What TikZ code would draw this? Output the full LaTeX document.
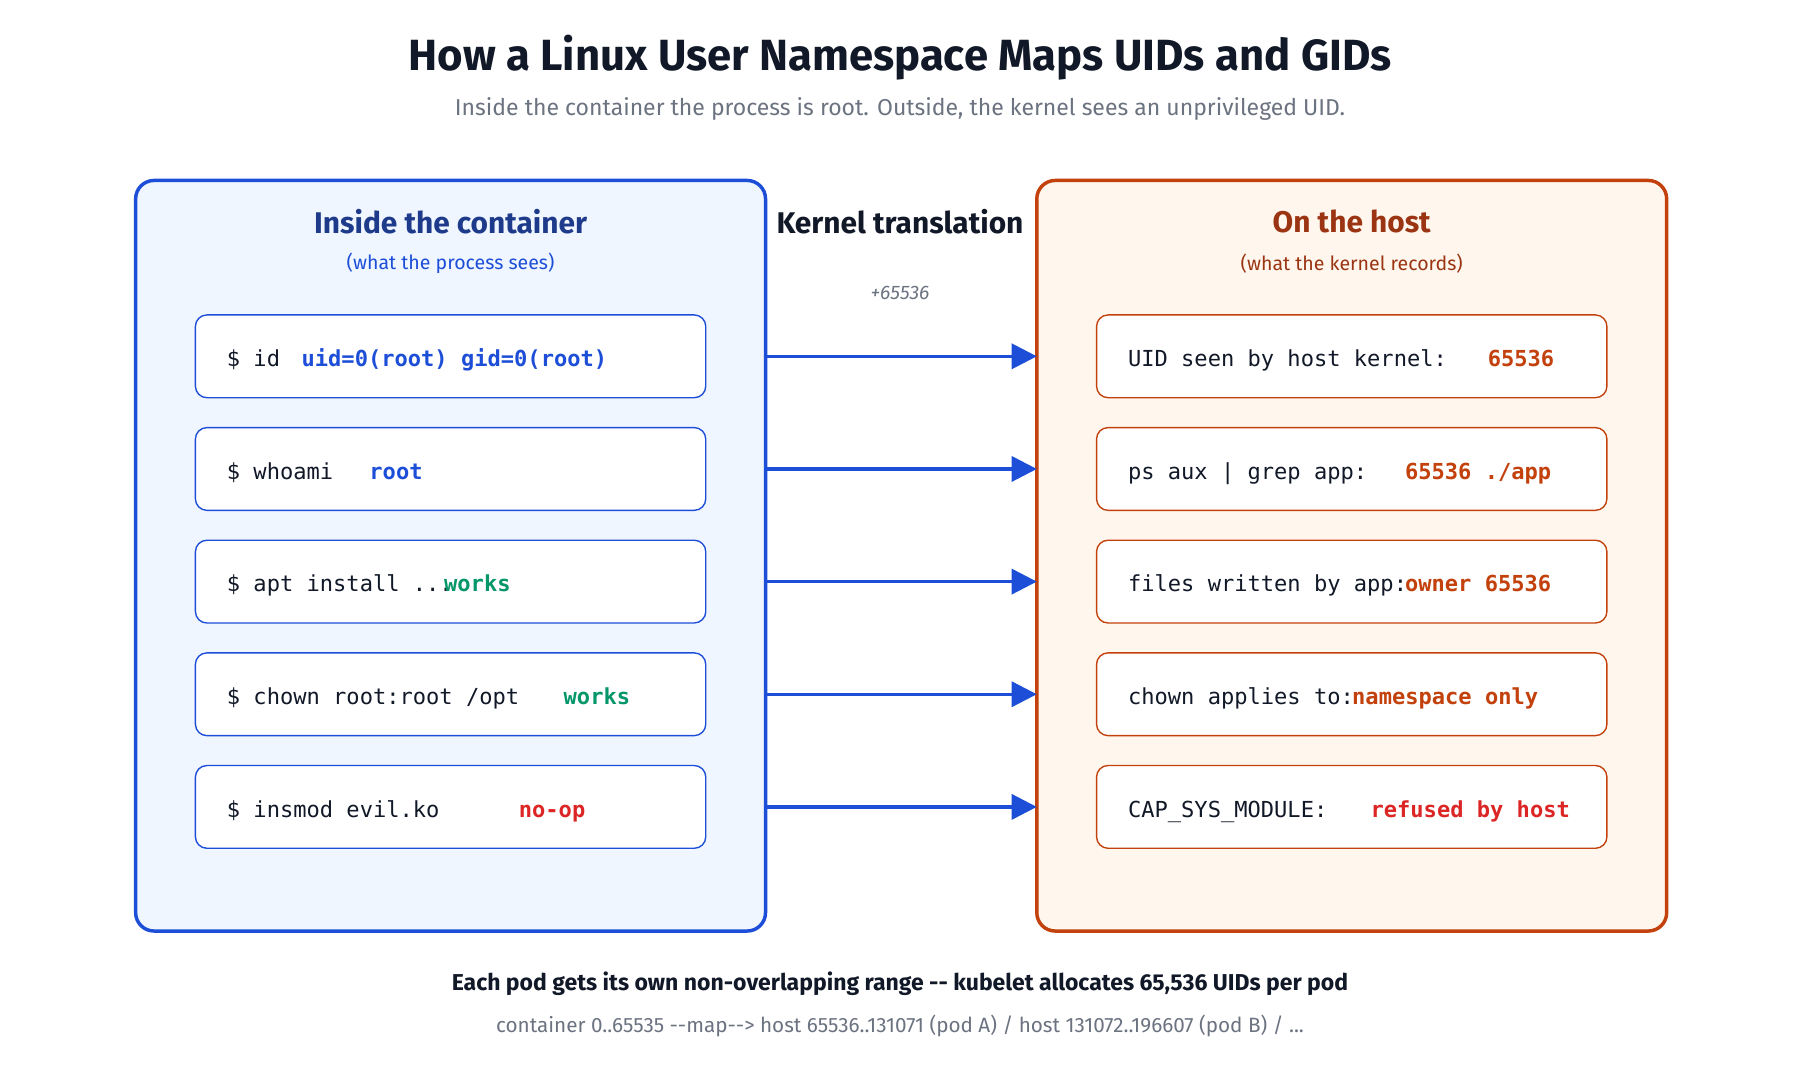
\documentclass[tikz,border=0pt]{standalone}
\usepackage{fontspec}
\setmainfont{Fira Sans}
\newfontfamily\monof{DejaVu Sans Mono}
\usetikzlibrary{arrows.meta}
\definecolor{ink}{HTML}{111827}
\definecolor{gry}{HTML}{6B7280}
\definecolor{blu}{HTML}{1D4ED8}
\definecolor{bluD}{HTML}{1E3A8A}
\definecolor{bluF}{HTML}{EFF6FF}
\definecolor{org}{HTML}{C2410C}
\definecolor{orgD}{HTML}{9A3412}
\definecolor{orgF}{HTML}{FFF7ED}
\definecolor{grn}{HTML}{059669}
\definecolor{red}{HTML}{DC2626}
\tikzset{
  panel/.style={rounded corners=8pt, line width=1.5pt},
  rowbox/.style={rounded corners=5pt, line width=0.6pt, fill=white},
  mono/.style={font=\monof\fontsize{9.6}{11}\selectfont, anchor=base west, inner sep=0},
  monob/.style={mono, font=\monof\bfseries\fontsize{9.6}{11}\selectfont},
  xarrow/.style={-{Triangle[length=11pt,width=11pt]}, line width=1.4pt, draw=blu},
}
\begin{document}
\begin{tikzpicture}[x=0.5pt,y=-0.5pt]
\useasboundingbox (0,0) rectangle (1566,940);
\node (title) at (783,50) {\bfseries\fontsize{19}{22}\selectfont\color{ink}How a Linux User Namespace Maps UIDs and GIDs};
\node (sub) at (783,95) {\fontsize{10}{12}\selectfont\color{gry}Inside the container the process is root. Outside, the kernel sees an unprivileged UID.};
\draw[panel, draw=blu, fill=bluF] (118,157) rectangle (666,810);
\draw[panel, draw=org, fill=orgF] (902,157) rectangle (1450,810);
\node (lh) at (392,193) {\bfseries\fontsize{13}{15}\selectfont\color{bluD}Inside the container};
\node (ls) at (392,229) {\fontsize{8.5}{10}\selectfont\color{blu}(what the process sees)};
\node (rh) at (1176,193) {\bfseries\fontsize{13}{15}\selectfont\color{orgD}On the host};
\node (rs) at (1176,229) {\fontsize{8.5}{10}\selectfont\color{orgD}(what the kernel records)};
\node (kt) at (783,193) {\bfseries\fontsize{13}{15}\selectfont\color{ink}Kernel translation};
\node (off) at (783,255) {\itshape\fontsize{8.5}{10}\selectfont\color{gry}+65536};
\foreach \i/\y in {1/310,2/408,3/506,4/604,5/702}{
  \draw[rowbox, draw=blu] (170,\y-36) rectangle (614,\y+36);
  \draw[rowbox, draw=org] (954,\y-36) rectangle (1398,\y+36);
  \coordinate (a\i) at (666,\y);
  \coordinate (b\i) at (902,\y);
  \draw[xarrow] (a\i) -- (b\i);
}
\node[mono] (l1) at (197,319) {\color{ink}\$ id};
\node[monob] (l1b) at (262,319) {\color{blu}uid=0(root) gid=0(root)};
\node[mono] (l2) at (197,417) {\color{ink}\$ whoami};
\node[monob] (l2b) at (321,417) {\color{blu}root};
\node[mono] (l3) at (197,515) {\color{ink}\$ apt install ...};
\node[monob] (l3b) at (386,515) {\color{grn}works};
\node[mono] (l4) at (197,613) {\color{ink}\$ chown root:root /opt};
\node[monob] (l4b) at (490,613) {\color{grn}works};
\node[mono] (l5) at (197,711) {\color{ink}\$ insmod evil.ko};
\node[monob] (l5b) at (451,711) {\color{red}no-op};
\node[mono] (r1) at (981,319) {\color{ink}UID seen by host kernel:};
\node[monob] (r1b) at (1294,319) {\color{org}65536};
\node[mono] (r2) at (981,417) {\color{ink}ps aux | grep app:};
\node[monob] (r2b) at (1222,417) {\color{org}65536 ./app};
\node[mono] (r3) at (981,515) {\color{ink}files written by app:};
\node[monob] (r3b) at (1222,515) {\color{org}owner 65536};
\node[mono] (r4) at (981,613) {\color{ink}chown applies to:};
\node[monob] (r4b) at (1176,613) {\color{org}namespace only};
\node[mono] (r5) at (981,711) {\color{ink}CAP\_SYS\_MODULE:};
\node[monob] (r5b) at (1192,711) {\color{red}refused by host};
\node (f1) at (783,856) {\bfseries\fontsize{10}{12}\selectfont\color{ink}Each pod gets its own non-overlapping range -{}- kubelet allocates 65,536 UIDs per pod};
\node (f2) at (783,893) {\fontsize{9}{11}\selectfont\color{gry}container 0..65535 -{}-map-{}-> host 65536..131071 (pod A) / host 131072..196607 (pod B) / ...};
\end{tikzpicture}
\end{document}
